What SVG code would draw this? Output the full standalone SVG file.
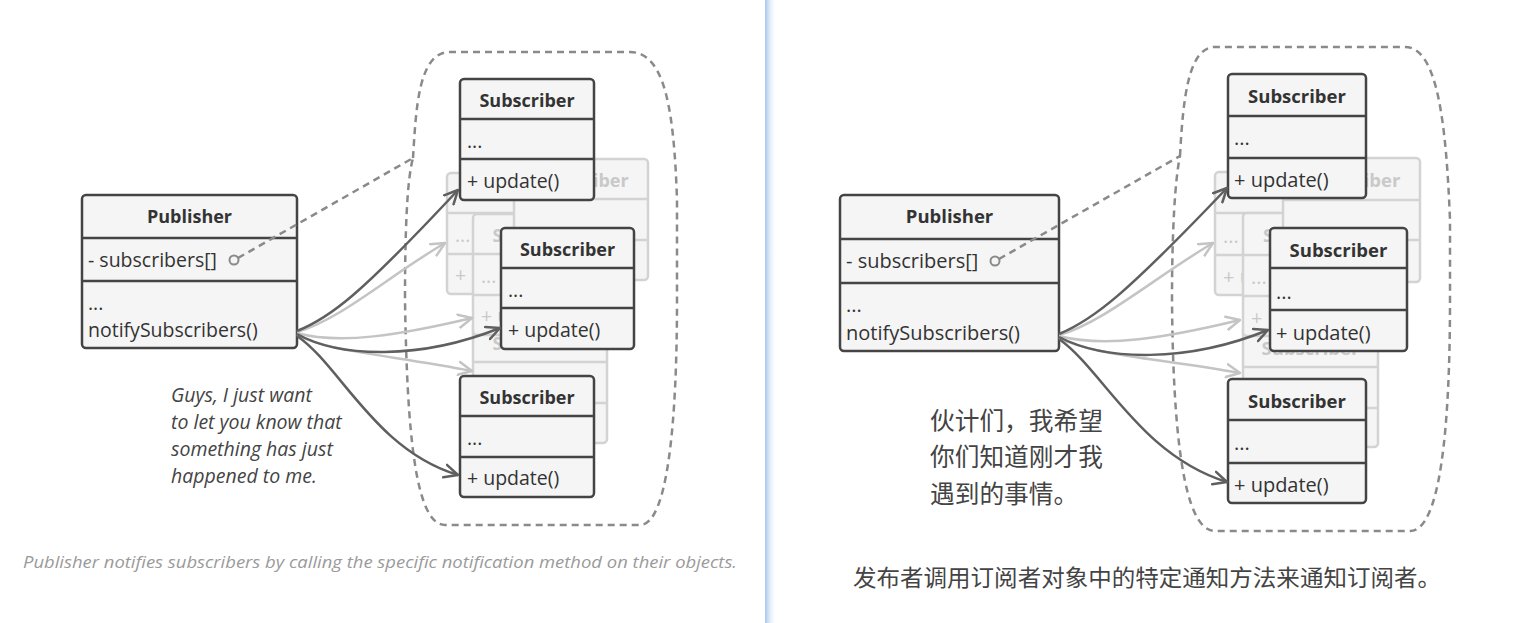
<svg xmlns="http://www.w3.org/2000/svg" width="1529" height="623" viewBox="0 0 1529 623">
<defs>
<linearGradient id="div" x1="0" y1="0" x2="1" y2="0">
<stop offset="0" stop-color="#a6c4ee"/>
<stop offset="1" stop-color="#ffffff" stop-opacity="0"/>
</linearGradient>
<marker id="ad" viewBox="0 0 16 16" refX="14.5" refY="8" markerWidth="16" markerHeight="16" markerUnits="userSpaceOnUse" orient="auto">
<path d="M1,1.5 L14.5,8 L1,14.5" fill="none" stroke="#5f5f5f" stroke-width="2.5" stroke-linecap="round" stroke-linejoin="round"/>
</marker>
<marker id="al" viewBox="0 0 16 16" refX="14.5" refY="8" markerWidth="16" markerHeight="16" markerUnits="userSpaceOnUse" orient="auto">
<path d="M1,1.5 L14.5,8 L1,14.5" fill="none" stroke="#c4c4c4" stroke-width="2.5" stroke-linecap="round" stroke-linejoin="round"/>
</marker>
</defs>
<style>
.box rect{fill:#f5f5f5;stroke:#444;stroke-width:2.5}
.box line{stroke:#444;stroke-width:2.5}
.ghost rect{fill:#f5f5f5;stroke:#d3d3d3;stroke-width:2.5}
.ghost line{stroke:#d3d3d3;stroke-width:2.5}
.t{font-family:"Open Sans","Liberation Sans",sans-serif;font-size:19.5px;fill:#333}
.r .t{font-size:20px}
.h{font-weight:bold;text-anchor:middle;font-size:18px}
.r .h{font-size:18.5px}
.ghost .t{fill:#c9c9c9}
.dk{fill:none;stroke:#5f5f5f;stroke-width:2.5;marker-end:url(#ad)}
.lt{fill:none;stroke:#c4c4c4;stroke-width:2.5;marker-end:url(#al)}
.dash{fill:none;stroke:#8a8a8a;stroke-width:2.5;stroke-dasharray:7 5}
.note{font-family:"Open Sans","Liberation Sans",sans-serif;font-style:italic;font-size:19.5px;fill:#444}
.cn{font-family:"Noto Sans CJK SC",sans-serif;fill:#444}
</style>
<rect x="0" y="0" width="1529" height="623" fill="#ffffff"/>
<rect x="765" y="0" width="12" height="623" fill="url(#div)"/>

<!-- LEFT PANEL -->
<g id="left-enclosure">
<path class="dash" d="M413,158 C416,110 418,52 450,52 L630,52 C665,52 674,110 677,200 L677,300 C677,420 668,525 640,525 L445,525 C415,525 407,430 405,300 C405,230 407,180 413,158 Z"/>
</g>

<g id="l-ghost4" class="ghost">
<rect x="473" y="322" width="134" height="121" rx="4"/><line x1="473" y1="362" x2="607" y2="362"/><line x1="473" y1="403" x2="607" y2="403"/>
<text class="t h" x="540" y="350">Subscriber</text>
</g>
<g id="l-ghost1" class="ghost">
<rect x="447" y="173" width="134" height="121" rx="4"/><line x1="447" y1="213" x2="581" y2="213"/><line x1="447" y1="254" x2="581" y2="254"/>
<text class="t" x="455" y="242">...</text><text class="t" x="455" y="282">+ update()</text>
</g>
<g id="l-ghost3" class="ghost">
<rect x="473" y="214" width="134" height="121" rx="4"/><line x1="473" y1="254" x2="607" y2="254"/><line x1="473" y1="295" x2="607" y2="295"/>
<text class="t h" x="540" y="242">Subscriber</text><text class="t" x="481" y="283">...</text><text class="t" x="481" y="323">+ update()</text>
</g>
<g id="l-ghost2" class="ghost">
<rect x="514" y="159" width="134" height="121" rx="4"/><line x1="514" y1="199" x2="648" y2="199"/><line x1="514" y1="240" x2="648" y2="240"/>
<text class="t h" x="581" y="187">Subscriber</text>
</g>

<g id="l-publisher" class="box">
<rect x="82" y="195" width="215" height="153" rx="4"/><line x1="82" y1="238" x2="297" y2="238"/><line x1="82" y1="281" x2="297" y2="281"/>
<text class="t h" x="189.5" y="223">Publisher</text>
<text class="t" x="88" y="267">- subscribers[]</text>
<text class="t" x="88" y="310">...</text>
<text class="t" x="88" y="337">notifySubscribers()</text>
</g>

<g id="l-sub1" class="box">
<rect x="460" y="79" width="134" height="121" rx="4"/><line x1="460" y1="119" x2="594" y2="119"/><line x1="460" y1="159" x2="594" y2="159"/>
<text class="t h" x="527" y="107">Subscriber</text><text class="t" x="467" y="148">...</text><text class="t" x="467" y="188">+ update()</text>
</g>
<g id="l-sub2" class="box">
<rect x="501" y="228" width="133" height="121" rx="4"/><line x1="501" y1="268" x2="634" y2="268"/><line x1="501" y1="308" x2="634" y2="308"/>
<text class="t h" x="567.5" y="256">Subscriber</text><text class="t" x="508" y="297">...</text><text class="t" x="508" y="337">+ update()</text>
</g>
<g id="l-sub3" class="box">
<rect x="460" y="376" width="134" height="121" rx="4"/><line x1="460" y1="416" x2="594" y2="416"/><line x1="460" y1="457" x2="594" y2="457"/>
<text class="t h" x="527" y="404">Subscriber</text><text class="t" x="467" y="445">...</text><text class="t" x="467" y="485">+ update()</text>
</g>

<g id="l-connectors">
<circle cx="234" cy="260" r="4.5" fill="none" stroke="#8a8a8a" stroke-width="2"/>
<path class="dash" d="M238,258 L413,158"/>
<path class="lt" d="M297,332 C340,320 390,275 445,243"/>
<path class="lt" d="M297,333 C340,345 400,335 472,318"/>
<path class="lt" d="M297,335 C330,352 390,355 472,371"/>
<path class="dk" d="M297,331 C330,318 360,295 458,190"/>
<path class="dk" d="M297,334 C340,358 420,360 500,328"/>
<path class="dk" d="M297,336 C340,365 375,450 458,475"/>
</g>

<g id="l-note">
<text class="note" x="171" y="402">Guys, I just want</text>
<text class="note" x="171" y="429">to let you know that</text>
<text class="note" x="171" y="456">something has just</text>
<text class="note" x="171" y="483">happened to me.</text>
</g>
<text x="23" y="568" font-family="'Open Sans',sans-serif" font-style="italic" font-size="17" fill="#9a9a9a" textLength="714" lengthAdjust="spacingAndGlyphs">Publisher notifies subscribers by calling the specific notification method on their objects.</text>

<!-- RIGHT PANEL -->
<g class="r">
<g id="right-enclosure">
<path class="dash" d="M1180,156 C1183,100 1188,47 1215,47 L1405,47 C1437,47 1446,120 1450,220 L1450,300 C1450,430 1440,531 1410,531 L1215,531 C1183,531 1173,430 1172,300 C1172,230 1175,180 1180,156 Z"/>
</g>

<g id="r-ghost4" class="ghost">
<rect x="1243" y="326" width="135" height="121" rx="4"/><line x1="1243" y1="367" x2="1378" y2="367"/><line x1="1243" y1="408" x2="1378" y2="408"/>
<text class="t h" x="1310.5" y="355">Subscriber</text>
</g>
<g id="r-ghost1" class="ghost">
<rect x="1215" y="172" width="138" height="123" rx="4"/><line x1="1215" y1="213" x2="1353" y2="213"/><line x1="1215" y1="255" x2="1353" y2="255"/>
<text class="t" x="1223" y="243">...</text><text class="t" x="1223" y="284">+ update()</text>
</g>
<g id="r-ghost3" class="ghost">
<rect x="1243" y="213" width="138" height="123" rx="4"/><line x1="1243" y1="255" x2="1381" y2="255"/><line x1="1243" y1="296" x2="1381" y2="296"/>
<text class="t h" x="1312" y="242">Subscriber</text><text class="t" x="1251" y="284">...</text><text class="t" x="1251" y="325">+ update()</text>
</g>
<g id="r-ghost2" class="ghost">
<rect x="1283" y="158" width="137" height="124" rx="4"/><line x1="1283" y1="200" x2="1420" y2="200"/><line x1="1283" y1="240" x2="1420" y2="240"/>
<text class="t h" x="1351.5" y="187">Subscriber</text>
</g>

<g id="r-publisher" class="box">
<rect x="840" y="195" width="219" height="156" rx="4"/><line x1="840" y1="239" x2="1059" y2="239"/><line x1="840" y1="283" x2="1059" y2="283"/>
<text class="t h" x="949.5" y="223">Publisher</text>
<text class="t" x="846" y="268">- subscribers[]</text>
<text class="t" x="846" y="312">...</text>
<text class="t" x="846" y="340">notifySubscribers()</text>
</g>

<g id="r-sub1" class="box">
<rect x="1228" y="74" width="138" height="124" rx="4"/><line x1="1228" y1="116" x2="1366" y2="116"/><line x1="1228" y1="158" x2="1366" y2="158"/>
<text class="t h" x="1297" y="103">Subscriber</text><text class="t" x="1234" y="145">...</text><text class="t" x="1234" y="187">+ update()</text>
</g>
<g id="r-sub2" class="box">
<rect x="1270" y="228" width="137" height="123" rx="4"/><line x1="1270" y1="268" x2="1407" y2="268"/><line x1="1270" y1="310" x2="1407" y2="310"/>
<text class="t h" x="1338.5" y="257">Subscriber</text><text class="t" x="1276" y="299">...</text><text class="t" x="1276" y="340">+ update()</text>
</g>
<g id="r-sub3" class="box">
<rect x="1228" y="379" width="138" height="124" rx="4"/><line x1="1228" y1="420" x2="1366" y2="420"/><line x1="1228" y1="463" x2="1366" y2="463"/>
<text class="t h" x="1297" y="408">Subscriber</text><text class="t" x="1234" y="450">...</text><text class="t" x="1234" y="492">+ update()</text>
</g>

<g id="r-connectors">
<circle cx="995" cy="261" r="4.5" fill="none" stroke="#8a8a8a" stroke-width="2"/>
<path class="dash" d="M999,259 L1180,156"/>
<path class="lt" d="M1059,335 C1103,323 1155,277 1213,243"/>
<path class="lt" d="M1059,336 C1105,348 1165,338 1240,320"/>
<path class="lt" d="M1059,338 C1093,355 1155,358 1240,373"/>
<path class="dk" d="M1059,334 C1093,320 1125,295 1227,188"/>
<path class="dk" d="M1059,337 C1105,361 1187,363 1268,330"/>
<path class="dk" d="M1059,339 C1103,370 1140,455 1227,482"/>
</g>

<g id="r-note">
<text class="cn" x="930" y="430" font-size="24.7">伙计们，我希望</text>
<text class="cn" x="930" y="466" font-size="24.7">你们知道刚才我</text>
<text class="cn" x="930" y="503" font-size="24.7">遇到的事情。</text>
</g>
<text class="cn" x="853" y="586" font-size="23" fill="#333" textLength="588" lengthAdjust="spacingAndGlyphs">发布者调用订阅者对象中的特定通知方法来通知订阅者。</text>
</g>
</svg>
